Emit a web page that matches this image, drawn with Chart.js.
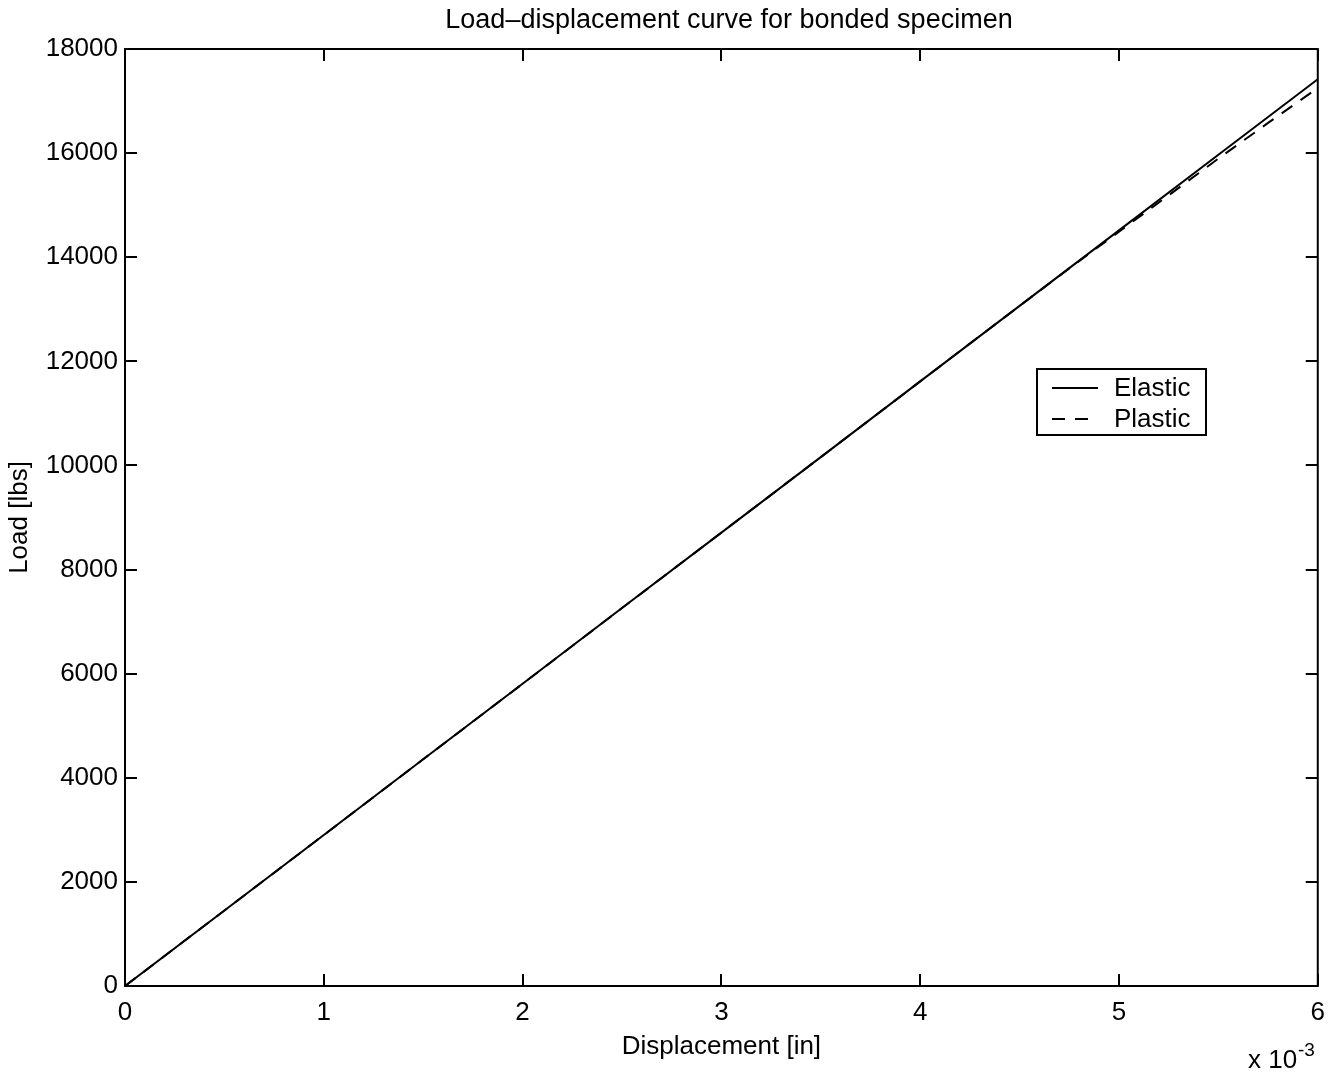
<!DOCTYPE html>
<html>
<head>
<meta charset="utf-8">
<title>Load-displacement curve for bonded specimen</title>
<script src="https://cdn.jsdelivr.net/npm/chart.js@4.4.1/dist/chart.umd.min.js"></script>
<style>
  html, body { margin: 0; padding: 0; background: #ffffff; }
  #wrap { width: 1336px; height: 1078px; }
</style>
</head>
<body>
<div id="wrap"><canvas id="chart" width="1336" height="1078"></canvas></div>
<script>
// Displacement in units of 1e-3 in
const elasticDisp = [0, 0.5, 1, 1.5, 2, 2.5, 3, 3.5, 4, 4.5, 5, 5.5, 6];
// Load [lbs]
const elasticLoad = [0, 1450, 2900, 4355, 5805, 7260, 8710, 10160, 11615, 13065, 14515, 15970, 17420];

const plasticDisp = [0, 0.5, 1, 1.5, 2, 2.5, 3, 3.5, 4, 4.5, 4.75, 5, 5.25, 5.5, 5.75, 6];
const plasticLoad = [0, 1450, 2900, 4355, 5805, 7260, 8710, 10160, 11615, 13065, 13785, 14490, 15190, 15895, 16580, 17250];

const xTicks = [0, 1, 2, 3, 4, 5, 6];
const yTicks = [0, 2000, 4000, 6000, 8000, 10000, 12000, 14000, 16000, 18000];

const titleText = 'Load\u2013displacement curve for bonded specimen';
const xTitle = 'Displacement [in]';
const yTitle = 'Load [lbs]';
const seriesNames = ['Elastic', 'Plastic'];

const FONT = '"Liberation Sans", Arial, Helvetica, sans-serif';
const INK = '#000000';

function toPoints(xs, ys) {
  return xs.map((x, i) => ({ x: x, y: ys[i] }));
}

// Axes box with inward ticks on all four sides, title, exponent label and legend
const frame = {
  id: 'frame',
  afterDraw(chart) {
    const ctx = chart.ctx;
    const a = chart.chartArea;
    const xs = chart.scales.x, ys = chart.scales.y;
    const tick = 12;
    ctx.save();
    ctx.strokeStyle = INK;
    ctx.lineWidth = 2;
    ctx.strokeRect(a.left, a.top, a.right - a.left, a.bottom - a.top);
    ctx.beginPath();
    xTicks.forEach(v => {
      const px = Math.round(xs.getPixelForValue(v));
      ctx.moveTo(px, a.bottom); ctx.lineTo(px, a.bottom - tick);
      ctx.moveTo(px, a.top); ctx.lineTo(px, a.top + tick);
    });
    yTicks.forEach(v => {
      const py = Math.round(ys.getPixelForValue(v));
      ctx.moveTo(a.left, py); ctx.lineTo(a.left + tick, py);
      ctx.moveTo(a.right, py); ctx.lineTo(a.right - tick, py);
    });
    ctx.stroke();

    // title
    ctx.fillStyle = INK;
    ctx.font = '27px ' + FONT;
    ctx.textAlign = 'center';
    ctx.textBaseline = 'alphabetic';
    ctx.fillText(titleText, 729, 28);

    // exponent of the x axis
    ctx.textAlign = 'left';
    ctx.font = '26px ' + FONT;
    ctx.fillText('x 10', 1248, 1068);
    ctx.font = '19px ' + FONT;
    ctx.fillText('-3', 1298, 1056);

    // legend
    const lx = 1037, ly = 369, lw = 169, lh = 66;
    ctx.fillStyle = '#ffffff';
    ctx.fillRect(lx, ly, lw, lh);
    ctx.lineWidth = 2;
    ctx.strokeRect(lx, ly, lw, lh);
    const rows = [388, 419];
    chart.data.datasets.forEach((ds, i) => {
      const y = rows[i];
      ctx.beginPath();
      ctx.setLineDash(ds.borderDash || []);
      ctx.lineWidth = ds.borderWidth;
      ctx.strokeStyle = ds.borderColor;
      ctx.moveTo(1052, y); ctx.lineTo(1098, y);
      ctx.stroke();
      ctx.setLineDash([]);
      ctx.fillStyle = INK;
      ctx.font = '26px ' + FONT;
      ctx.textAlign = 'left';
      ctx.textBaseline = 'middle';
      ctx.fillText(ds.label, 1114, y + 1);
    });
    ctx.restore();
  }
};

const chart = new Chart(document.getElementById('chart'), {
  type: 'scatter',
  data: {
    datasets: [
      {
        label: seriesNames[0],
        data: toPoints(elasticDisp, elasticLoad),
        showLine: true,
        borderColor: INK,
        borderWidth: 2,
        pointRadius: 0,
        tension: 0
      },
      {
        label: seriesNames[1],
        data: toPoints(plasticDisp, plasticLoad),
        showLine: true,
        borderColor: INK,
        borderWidth: 2,
        borderDash: [13, 10],
        pointRadius: 0,
        tension: 0
      }
    ]
  },
  options: {
    responsive: false,
    animation: false,
    devicePixelRatio: 1,
    layout: { padding: { top: 49, right: 18, left: 0, bottom: 0 } },
    plugins: {
      legend: { display: false },
      title: { display: false },
      tooltip: { enabled: false }
    },
    scales: {
      x: {
        type: 'linear',
        min: 0, max: 6,
        afterFit(scale) { scale.height = 92; },
        grid: { display: false, drawTicks: false },
        border: { display: false },
        afterBuildTicks(scale) { scale.ticks = xTicks.map(v => ({ value: v })); },
        ticks: {
          padding: 11,
          color: INK,
          font: { family: FONT, size: 26 },
          callback: v => String(v)
        },
        title: {
          display: true,
          text: xTitle,
          color: INK,
          font: { family: FONT, size: 26 },
          padding: { top: 0, bottom: 16 }
        }
      },
      y: {
        type: 'linear',
        min: 0, max: 18000,
        afterFit(scale) { scale.width = 125; },
        grid: { display: false, drawTicks: false },
        border: { display: false },
        afterBuildTicks(scale) { scale.ticks = yTicks.map(v => ({ value: v })); },
        ticks: {
          padding: 7,
          color: INK,
          font: { family: FONT, size: 26 },
          callback: v => String(v)
        },
        title: {
          display: true,
          text: yTitle,
          color: INK,
          font: { family: FONT, size: 26 },
          padding: { top: 4, bottom: 0 }
        }
      }
    }
  },
  plugins: [frame]
});
</script>
</body>
</html>
